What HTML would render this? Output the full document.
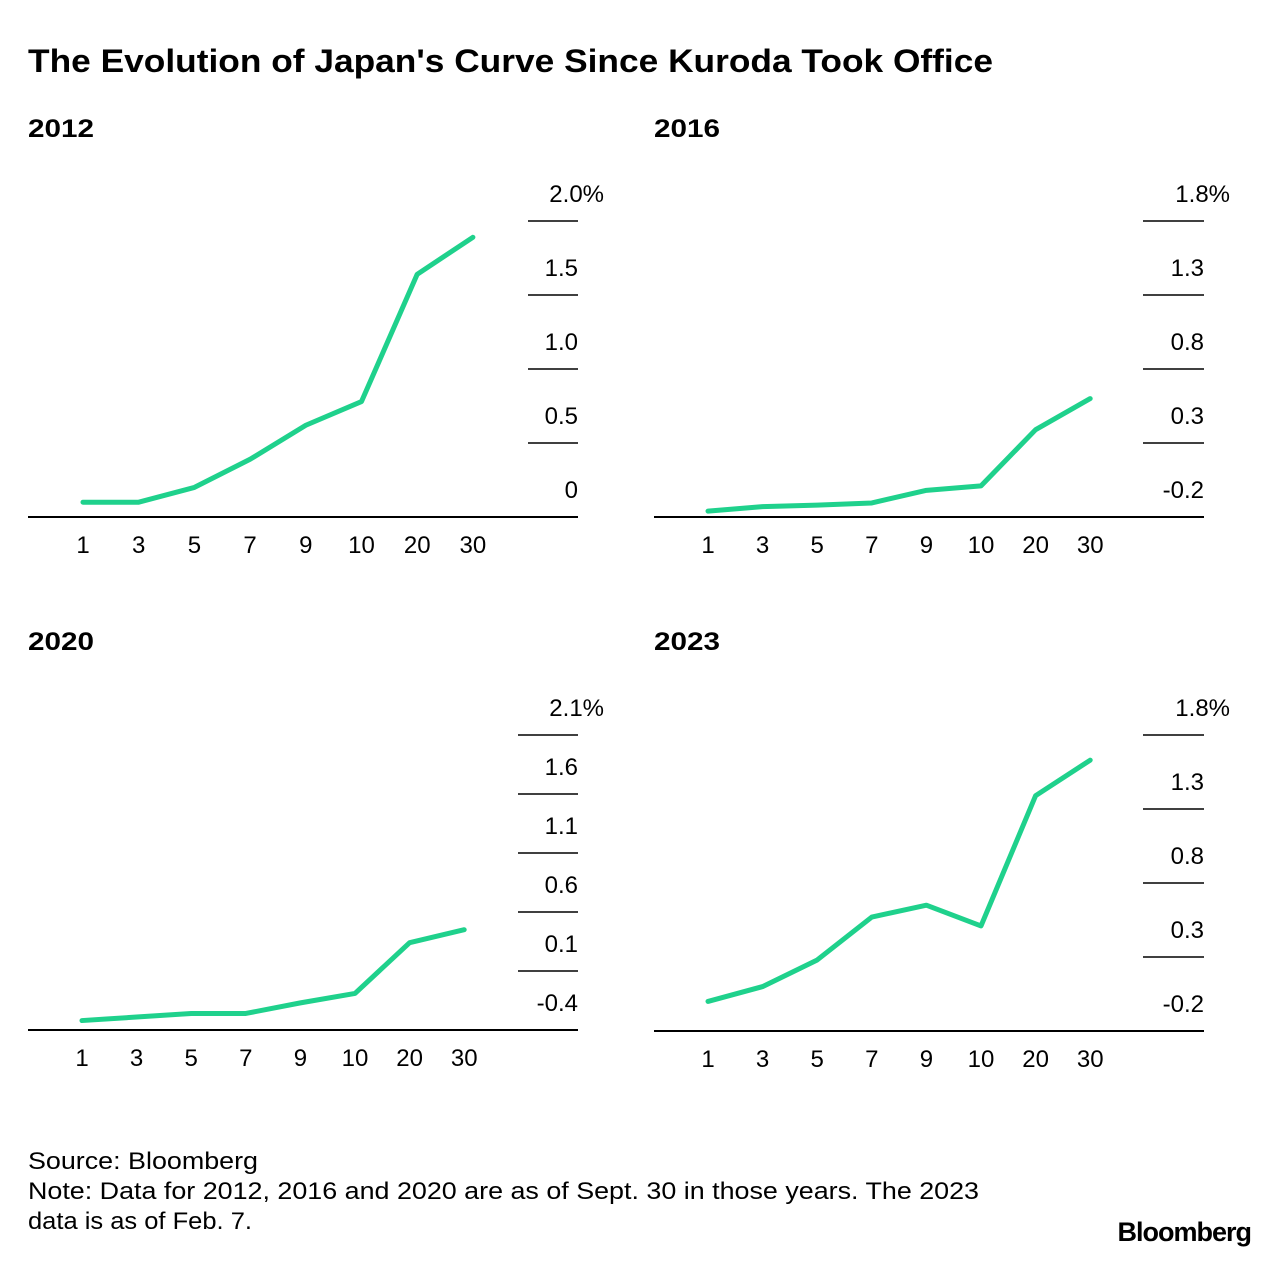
<!DOCTYPE html>
<html><head><meta charset="utf-8">
<style>
body{margin:0;background:#fff;width:1279px;height:1258px;overflow:hidden;font-family:"Liberation Sans",Arial,sans-serif;}
svg text{font-family:"Liberation Sans",Arial,sans-serif;}
</style></head>
<body>
<svg id="chart" width="1279" height="1258" xmlns="http://www.w3.org/2000/svg">
<text x="28" y="72" font-size="32" font-weight="bold" fill="#000" textLength="965" lengthAdjust="spacingAndGlyphs">The Evolution of Japan's Curve Since Kuroda Took Office</text>
<text x="28" y="1169" font-size="24" fill="#000" textLength="230" lengthAdjust="spacingAndGlyphs">Source: Bloomberg</text>
<text x="28" y="1199" font-size="24" fill="#000" textLength="951" lengthAdjust="spacingAndGlyphs">Note: Data for 2012, 2016 and 2020 are as of Sept. 30 in those years. The 2023</text>
<text x="28" y="1229" font-size="24" fill="#000" textLength="224" lengthAdjust="spacingAndGlyphs">data is as of Feb. 7.</text>
<text x="1251" y="1241" font-size="27" font-weight="bold" text-anchor="end" fill="#000" letter-spacing="-1">Bloomberg</text>
</svg>
<script>
const categories = ["1","3","5","7","9","10","20","30"];
const values2012 = [0.1,0.1,0.2,0.39,0.62,0.78,1.64,1.89];
const values2016 = [-0.16,-0.13,-0.12,-0.105,-0.02,0.01,0.39,0.6];
const values2020 = [-0.32,-0.29,-0.26,-0.26,-0.17,-0.09,0.34,0.45];
const values2023 = [0.0,0.1,0.28,0.57,0.65,0.51,1.39,1.63];
const ticks2012 = [0,0.5,1.0,1.5,2.0];
const tickLabels2012 = ["0","0.5","1.0","1.5","2.0%"];
const ticks2016 = [-0.2,0.3,0.8,1.3,1.8];
const tickLabels2016 = ["-0.2","0.3","0.8","1.3","1.8%"];
const ticks2020 = [-0.4,0.1,0.6,1.1,1.6,2.1];
const tickLabels2020 = ["-0.4","0.1","0.6","1.1","1.6","2.1%"];
const ticks2023 = [-0.2,0.3,0.8,1.3,1.8];
const tickLabels2023 = ["-0.2","0.3","0.8","1.3","1.8%"];

const svg=document.getElementById('chart');
const NS="http://www.w3.org/2000/svg";
function mk(tag,attrs){const e=document.createElementNS(NS,tag);for(const k in attrs)e.setAttribute(k,attrs[k]);svg.appendChild(e);return e;}

function panel(name,title,ox,titleY,baseY,topY,ticks,labels,vals,xStart,xStep,tickLen){
  const lo=ticks[0],hi=ticks[ticks.length-1];
  const y=v=>baseY-(v-lo)/(hi-lo)*(baseY-topY);
  const x=i=>ox+xStart+i*xStep;
  const t=mk('text',{x:ox,y:titleY,'font-size':25,'font-weight':'bold',textLength:66,lengthAdjust:'spacingAndGlyphs'});
  t.textContent=title;
  
  
  const right=ox+550;
  ticks.forEach((tv,i)=>{
    const yy=y(tv);
    const isBase=i===0;
    const l=mk('line',{x1:isBase?ox:right-tickLen,x2:right,y1:yy,y2:yy,stroke:'#000','stroke-width':isBase?2:1.6});
    
    
    const lab=labels[i];
    const hasPct=lab.endsWith('%');
    const tx=mk('text',{x:hasPct?right+26:right,y:yy-19,'font-size':24,'text-anchor':'end',fill:'#000'});
    tx.textContent=lab;
    
    
  });
  categories.forEach((c,i)=>{
    const tx=mk('text',{x:x(i),y:baseY+36,'font-size':24,'text-anchor':'middle',fill:'#000'});
    tx.textContent=c;
    
    
  });
  const pts=vals.map((v,i)=>x(i)+','+y(v)).join(' ');
  const pl=mk('polyline',{points:pts,fill:'none',stroke:'#1fd18c','stroke-width':5,'stroke-linejoin':'round','stroke-linecap':'round'});
  
  
}
panel('panel-2012','2012',28,137,517,221,ticks2012,tickLabels2012,values2012,55,55.7,50);
panel('panel-2016','2016',654,137,517,221,ticks2016,tickLabels2016,values2016,54,54.6,61);
panel('panel-2020','2020',28,650,1030,735,ticks2020,tickLabels2020,values2020,54,54.6,60);
panel('panel-2023','2023',654,650,1031,735,ticks2023,tickLabels2023,values2023,54,54.6,61);
</script>
</body></html>
